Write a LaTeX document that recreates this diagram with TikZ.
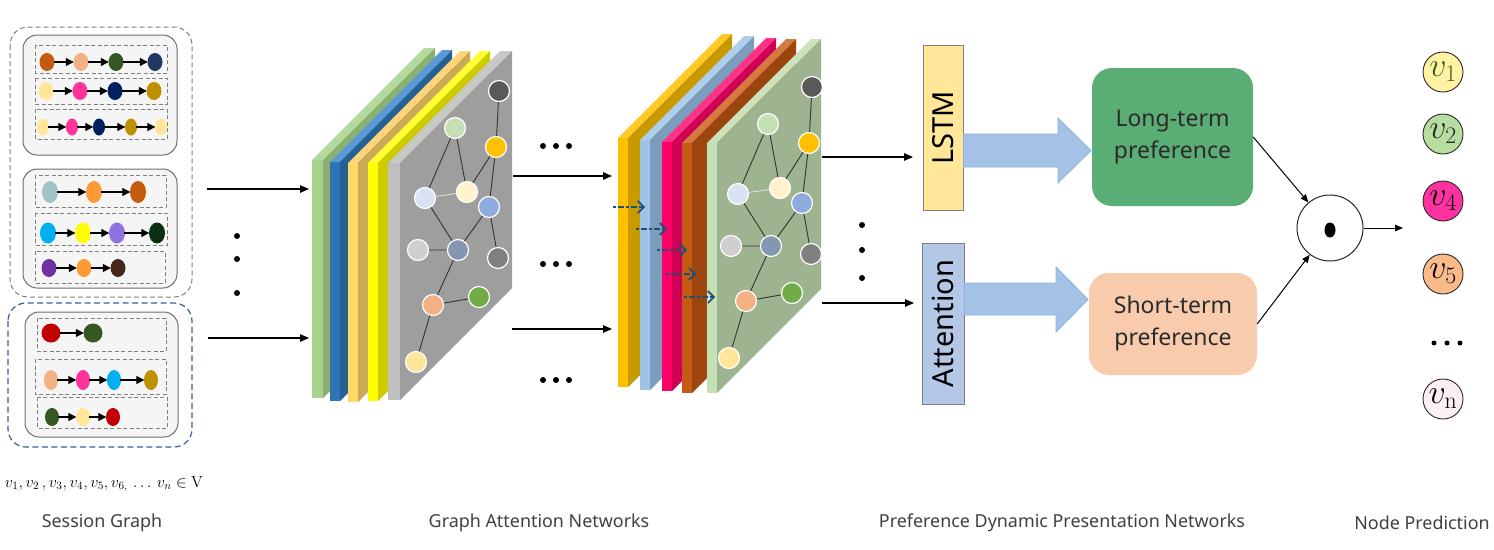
\RequirePackage{fix-cm}
\documentclass[tikz,border=0pt]{standalone}
\usepackage[no-math]{fontspec}
\setmainfont{Noto Sans}
\usetikzlibrary{arrows.meta,shapes.geometric}
% session colours
\definecolor{sgfill}{HTML}{F5F5F5}
\definecolor{sgline}{HTML}{6E6E6E}
\definecolor{dashg}{HTML}{7F7F7F}
\definecolor{dashb}{HTML}{3A5D9C}
\definecolor{rust}{HTML}{C55A11}
\definecolor{salmon}{HTML}{F4B183}
\definecolor{dgreen}{HTML}{375623}
\definecolor{navy}{HTML}{1F3864}
\definecolor{lyel}{HTML}{FFE699}
\definecolor{pink}{HTML}{FF3399}
\definecolor{dnavy}{HTML}{002060}
\definecolor{gold}{HTML}{BF9000}
\definecolor{teal}{HTML}{A2C4C9}
\definecolor{orng}{HTML}{FF9933}
\definecolor{cyan}{HTML}{00B0F0}
\definecolor{yel}{HTML}{FFFF00}
\definecolor{purp}{HTML}{8E72E0}
\definecolor{dkgr}{HTML}{0A3012}
\definecolor{vio}{HTML}{7030A0}
\definecolor{brwn}{HTML}{44291A}
\definecolor{red}{HTML}{C00000}
% graph colours
\definecolor{gA}{HTML}{595959}
\definecolor{gB}{HTML}{C5E0B4}
\definecolor{gC}{HTML}{FFC000}
\definecolor{gD}{HTML}{DAE3F3}
\definecolor{gE}{HTML}{FFF2CC}
\definecolor{gF}{HTML}{8FAADC}
\definecolor{gG}{HTML}{D0CECE}
\definecolor{gH}{HTML}{8497B0}
\definecolor{gI}{HTML}{7F7F7F}
\definecolor{gJ}{HTML}{F4B183}
\definecolor{gK}{HTML}{70AD47}
\definecolor{gL}{HTML}{FFE699}
% slab colours
\definecolor{s1f}{HTML}{A9D18E}\definecolor{s1s}{HTML}{8CAE72}\definecolor{s1t}{HTML}{B5D99C}
\definecolor{s2f}{HTML}{2E75B6}\definecolor{s2s}{HTML}{255F93}\definecolor{s2t}{HTML}{5A9BD5}
\definecolor{s3f}{HTML}{FFD966}\definecolor{s3s}{HTML}{CBAA55}\definecolor{s3t}{HTML}{FFD57A}
\definecolor{s4f}{HTML}{FFFF00}\definecolor{s4s}{HTML}{CCCC00}\definecolor{s4t}{HTML}{FFFF33}
\definecolor{s5f}{HTML}{BFBFBF}\definecolor{s5s}{HTML}{9E9E9E}\definecolor{s5t}{HTML}{C9C9C9}
\definecolor{t1f}{HTML}{FFC000}\definecolor{t1s}{HTML}{C99A00}\definecolor{t1t}{HTML}{FFC926}
\definecolor{t2f}{HTML}{9DC3E6}\definecolor{t2s}{HTML}{7B9DBB}\definecolor{t2t}{HTML}{AECFEB}
\definecolor{t3f}{HTML}{FF0066}\definecolor{t3s}{HTML}{D10057}\definecolor{t3t}{HTML}{FF3385}
\definecolor{t4f}{HTML}{C55A11}\definecolor{t4s}{HTML}{9C450C}\definecolor{t4t}{HTML}{D27A40}
\definecolor{t5f}{HTML}{C5E0B4}\definecolor{t5s}{HTML}{9EB38F}\definecolor{t5t}{HTML}{CBE3BC}
% other
\definecolor{lstmfill}{HTML}{FFE699}
\definecolor{attfill}{HTML}{B4C7E7}
\definecolor{boxline}{HTML}{7F7F7F}
\definecolor{barrow}{HTML}{A3C2E6}
\definecolor{barrowd}{HTML}{8AB2DE}
\definecolor{longfill}{HTML}{5BAD76}
\definecolor{shortfill}{HTML}{F8CBAD}
\definecolor{txt}{HTML}{2A2A2A}
\definecolor{labtxt}{HTML}{404040}
\definecolor{ddblue}{HTML}{1F4E79}
\definecolor{pv1}{HTML}{FFF3A3}
\definecolor{pv1t}{HTML}{3A5A28}
\definecolor{pv2}{HTML}{B7DEA0}
\definecolor{pv4}{HTML}{FF33A0}
\definecolor{pv5}{HTML}{FABA8A}
\definecolor{pvn}{HTML}{FCEFF2}
\tikzset{
  sgbox/.style={draw=sgline, fill=sgfill, line width=1pt, rounded corners=14pt},
  rowbox/.style={draw=dashg, line width=0.9pt, dash pattern=on 4pt off 2.5pt},
  sgn/.style n args={2}{ellipse, inner sep=0pt, minimum width=#1pt, minimum height=#2pt},
  sga/.style={-{Triangle[length=8pt,width=8pt]}, line width=1.3pt, shorten <=-1pt, shorten >=-0.5pt},
  gn/.style={circle, inner sep=0pt, minimum size=21pt, draw=white, line width=1.2pt},
  ge/.style={draw=black!80, line width=0.9pt},
  arr/.style={-{Triangle[length=9pt,width=7.5pt]}, line width=1.1pt},
  dda/.style={draw=ddblue, line width=1.6pt, dash pattern=on 3pt off 2pt on 6pt off 2pt, -{Straight Barb[length=6pt,width=12pt]}},
  vbox/.style={draw=boxline, line width=1pt, inner sep=0pt, rotate=90, text=black, font=\fontsize{29}{29}\selectfont},
  prefbox/.style={rounded corners=20pt, inner sep=0pt, align=center, text=txt, font=\fontsize{23}{32}\selectfont},
  vn/.style={circle, inner sep=0pt, minimum size=40pt, draw=black!85, line width=0.9pt, font=\fontsize{34}{34}\selectfont},
  lab/.style={text=labtxt, font=\fontsize{17.9}{20}\selectfont},
  bigdot/.style={circle, fill=black, inner sep=0pt, minimum size=6pt},
}
% session row: #1 prefix, #2 y, #3 size, #4 list x/colour
\newcommand\sgrow[4]{%
  \foreach \xx/\cc [count=\i, remember=\i as \j (initially 0)] in {#4} {
    \node[sgn=#3, fill=\cc] (#1\i) at (\xx,#2) {};
    \ifnum\i>1 \draw[sga] (#1\j) -- (#1\i); \fi
  }}
% slab: #1 x0, #2 w, #3 ytop, #4 ybot, #5 depth, #6 colour prefix
\newcommand\slab[6]{%
  \fill[#6t] (#1,#3) -- ++(#2,0) -- ++(#5,-#5) -- ++(-#2,0) -- cycle;
  \fill[#6f] (#1,#3) rectangle ({#1+#2},#4);
  \fill[#6s] ({#1+#2},#3) -- ++(#5,-#5) -- ({#1+#2+#5},{#4-#5}) -- ({#1+#2},#4) -- cycle;
}
\newcommand\gatgraph[1]{%
  \node[gn,fill=gA] (#1a) at (499,91) {};
  \node[gn,fill=gB] (#1b) at (455,128) {};
  \node[gn,fill=gC] (#1c) at (496,147) {};
  \node[gn,fill=gD] (#1d) at (425,198) {};
  \node[gn,fill=gE] (#1e) at (467,192) {};
  \node[gn,fill=gF] (#1f) at (489,207) {};
  \node[gn,fill=gG] (#1g) at (418,250) {};
  \node[gn,fill=gH] (#1h) at (458,250) {};
  \node[gn,fill=gI] (#1i) at (498,258) {};
  \node[gn,fill=gJ] (#1j) at (433,305) {};
  \node[gn,fill=gK] (#1k) at (479,297) {};
  \node[gn,fill=gL] (#1l) at (416,362) {};
  \draw[ge] (#1a)--(#1c) (#1b)--(#1d) (#1b)--(#1e) (#1c)--(#1e) (#1c)--(#1f)
            (#1d)--(#1h) (#1g)--(#1h) (#1h)--(#1f) (#1f)--(#1i) (#1h)--(#1j)
            (#1j)--(#1k) (#1j)--(#1l);
  \draw[ge, draw=white!75!gray] (#1d)--(#1e);
}
\begin{document}
\begin{tikzpicture}[x=1pt,y=-1pt]
\useasboundingbox (0,0) rectangle (1494,549);

% ---------------- Session graph ----------------
\draw[draw=dashg, line width=1pt, dash pattern=on 5pt off 3pt, rounded corners=18pt] (10,27) rectangle (192,297);
\draw[draw=dashb, line width=1.2pt, dash pattern=on 6pt off 3.5pt, rounded corners=18pt] (8,303) rectangle (192,447);
\draw[sgbox] (23,35) rectangle (177,155);
\draw[sgbox] (23,169) rectangle (177,288);
\draw[sgbox] (25,312) rectangle (178,437);
\draw[rowbox] (35,45) rectangle (167,73);
\draw[rowbox] (35,78) rectangle (167,104);
\draw[rowbox] (35,109) rectangle (167,139);
\draw[rowbox] (35,175) rectangle (166,207);
\draw[rowbox] (35,213) rectangle (167,245);
\draw[rowbox] (35,251) rectangle (165,283);
\draw[rowbox] (37,318) rectangle (166,351);
\draw[rowbox] (35,359) rectangle (166,394);
\draw[rowbox] (37,397) rectangle (167,428);

\sgrow{ra}{62}{{15}{18}}{47/rust,81/salmon,116/dgreen,155/navy}
\sgrow{rb}{91}{{15}{18}}{46/lyel,80/pink,115/dnavy,154/gold}
\sgrow{rc}{127}{{12}{17}}{43/lyel,72/pink,99/dnavy,131/gold,161/lyel}
\sgrow{rd}{192}{{16}{22}}{50/teal,94/orng,138/rust}
\sgrow{re}{233}{{16}{21}}{48/cyan,83/yel,117/purp,157/dkgr}
\sgrow{rf}{268}{{15}{18}}{49/vio,84/orng,118/brwn}
\sgrow{rg}{333}{{19}{19}}{51/red,93/dgreen}
\sgrow{rh}{380}{{14}{20}}{51/salmon,83/pink,114/cyan,151/gold}
\sgrow{ri}{417}{{14}{18}}{52/dgreen,83/lyel,113/red}

\node (vset) at (104,484) {\fontsize{16}{16}\selectfont $v_1, v_2\,, v_3, v_4, v_5, v_{6,}\,\dots\,v_n \in \mathrm{V}$};

% arrows session -> GAT
\coordinate (s1) at (207,189); \coordinate (t1) at (309,189);
\coordinate (s2) at (208,338); \coordinate (t2) at (309,338);
\draw[arr] (s1) -- (t1);
\draw[arr] (s2) -- (t2);
\node[bigdot] (vd1) at (237,236) {};
\node[bigdot] (vd2) at (237,259) {};
\node[bigdot] (vd3) at (237,293) {};

% ---------------- GAT stack 1 ----------------
\slab{312}{11}{160}{398}{112}{s1}
\slab{330}{10}{162}{401}{112}{s2}
\slab{348}{10}{163}{402}{112}{s3}
\slab{368}{10}{163}{401}{112}{s4}
\slab{388}{12}{163}{400}{112}{s5}
\gatgraph{g}

% arrows stack1 -> stack2
\coordinate (s3) at (513,176); \coordinate (t3) at (612,176);
\coordinate (s4) at (512,329); \coordinate (t4) at (612,329);
\draw[arr] (s3) -- (t3);
\draw[arr] (s4) -- (t4);
\foreach \yy [count=\k] in {146,264,380}{
  \node[bigdot] (hd\k a) at (543,\yy) {};
  \node[bigdot] (hd\k b) at (556,\yy) {};
  \node[bigdot] (hd\k c) at (569,\yy) {};
}

% ---------------- GAT stack 2 ----------------
\slab{618}{10}{138}{387}{104}{t1}
\slab{640}{10}{140}{390}{104}{t2}
\slab{662}{10}{142}{391}{104}{t3}
\slab{682}{10}{143}{393}{104}{t4}
\slab{707}{10}{143}{393}{104}{t5}
\begin{scope}[shift={(313,-4)}]
\gatgraph{h}
\end{scope}

% dashed blue arrows
\foreach \xa/\xb/\yy [count=\k] in {613/645/207, 636/667/229, 657/687/250, 666/696/274, 684/715/297}{
  \coordinate (da\k) at (\xa,\yy);
  \coordinate (db\k) at (\xb,\yy);
  \draw[dda] (da\k) -- (db\k);
}

% arrows stack2 -> LSTM / Attention
\node[vbox, fill=lstmfill, minimum width=165pt, minimum height=40pt] (lstm) at (943,127.5) {LSTM};
\node[vbox, fill=attfill, minimum width=161pt, minimum height=42pt] (att) at (943,323.5) {Attention};
\coordinate (s5) at (822,157); \coordinate (t5) at (913,157);
\coordinate (s6) at (822,303); \coordinate (t6) at (914,303);
\draw[arr] (s5) -- (t5);
\draw[arr] (s6) -- (t6);
\node[bigdot] (pd1) at (862,225) {};
\node[bigdot] (pd2) at (862,250) {};
\node[bigdot] (pd3) at (862,278) {};

% block arrows
\filldraw[fill=barrow, draw=barrowd, line width=0.8pt]
  (963.5,134) -- (1058,134) -- (1058,118) -- (1091,150.5) -- (1058,183) -- (1058,167) -- (963.5,167) -- cycle;
\filldraw[fill=barrow, draw=barrowd, line width=0.8pt]
  (964.5,283) -- (1056,283) -- (1056,267) -- (1088,299.5) -- (1056,332) -- (1056,315) -- (964.5,315) -- cycle;

% preference boxes
\node[prefbox, fill=longfill, minimum width=161pt, minimum height=138pt] (long) at (1172.5,137) {Long-term\\preference};
\node[prefbox, fill=shortfill, minimum width=168pt, minimum height=102pt] (short) at (1173,324) {Short-term\\preference};

% ---------------- Node prediction ----------------
\node[circle, draw=black!85, line width=1pt, minimum size=66pt, inner sep=0pt] (dot) at (1330,228) {};
\node[ellipse, fill=black, minimum width=11pt, minimum height=15pt, inner sep=0pt] (dotc) at (1330,230) {};
\draw[-{Triangle[length=8pt,width=6.5pt]}, line width=1pt] (long.east) -- (dot);
\draw[-{Triangle[length=8pt,width=6.5pt]}, line width=1pt] (short.east) -- (dot);
\coordinate (outend) at (1403,228);
\draw[-{Triangle[length=8pt,width=6.5pt]}, line width=1pt] (dot.east) -- (outend);

\node[vn, fill=pv1, text=pv1t] (v1) at (1443,72) {$v_1$};
\node[vn, fill=pv2, text=black!85] (v2) at (1443,134) {$v_2$};
\node[vn, fill=pv4, text=black] (v4) at (1443,201) {$v_4$};
\node[vn, fill=pv5, text=black] (v5) at (1443,274) {$v_5$};
\node[circle, fill=black, inner sep=0pt, minimum size=5pt] (e1) at (1434,343) {};
\node[circle, fill=black, inner sep=0pt, minimum size=5pt] (e2) at (1447,343) {};
\node[circle, fill=black, inner sep=0pt, minimum size=5pt] (e3) at (1460,343) {};
\node[vn, fill=pvn, text=black] (vn) at (1443,399) {$v_{\mathrm{n}}$};

% ---------------- bottom labels ----------------
\node[lab] (l1) at (102,523) {Session Graph};
\node[lab] (l2) at (539,523) {Graph Attention Networks};
\node[lab] (l3) at (1062,523) {Preference Dynamic Presentation Networks};
\node[lab] (l4) at (1422,523) {Node Prediction};
\end{tikzpicture}
\end{document}
